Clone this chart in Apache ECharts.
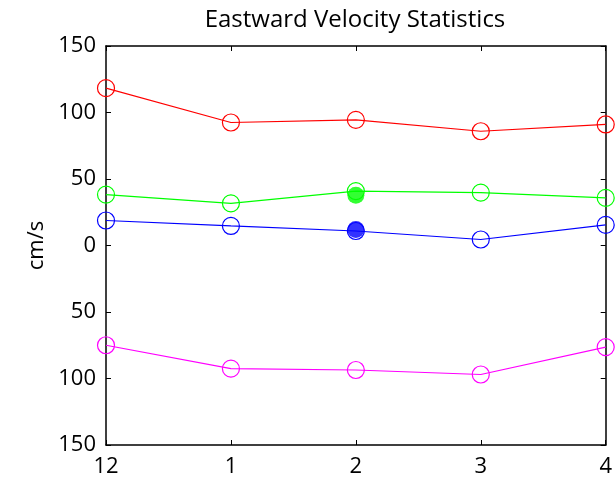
<!DOCTYPE html>
<html><head><meta charset="utf-8">
<script src="https://cdn.jsdelivr.net/npm/echarts@6/dist/echarts.min.js"></script>
<style>html,body{margin:0;padding:0;background:#fff}#c{width:615px;height:479px}</style>
</head><body><div id="c"></div>
<script>
const categories = ['12','1','2','3','4'];
const redValues = [118.3, 92.5, 94.5, 85.9, 91];
const greenValues = [38.3, 31.7, 40.9, 39.8, 35.8];
const blueValues = [18.8, 14.7, 10.9, 4.5, 15.5];
const magentaValues = [-75, -92.6, -93.6, -97, -76.4];
const filledGreen = [null, null, 37.8, null, null];
const filledBlue = [null, null, 12, null, null];
const yTicks = [-150, -100, -50, 0, 50, 100, 150];

const font = 'Open Sans';
function lineSeries(data, color){
  return {type:'line', data:data, symbol:'circle', symbolSize:17, showSymbol:true,
    itemStyle:{color:'rgba(255,255,255,0)', borderColor:color, borderWidth:1.2},
    lineStyle:{color:color, width:1.2}, emphasis:{disabled:true}, animation:false, z:2};
}
function filled(data, color){
  return {type:'scatter', data:data, symbol:'circle', symbolSize:17,
    itemStyle:{color:color}, emphasis:{disabled:true}, animation:false, z:5};
}
const axisLineStyle = {show:true, onZero:false, lineStyle:{color:'#000', width:1.5}};
const chart = echarts.init(document.getElementById('c'));
chart.setOption({
  backgroundColor:'#fff',
  title:{text:'Eastward Velocity Statistics', left:350, textAlign:'center', top:3,
    textStyle:{fontFamily:font, fontSize:24, fontWeight:'normal', color:'#000'}},
  grid:{left:106, right:3, top:46, bottom:34, containLabel:false},
  xAxis:[{type:'category', data:categories, boundaryGap:false,
    axisLine:axisLineStyle,
    axisTick:{inside:true, length:5, lineStyle:{color:'#000'}},
    axisLabel:{fontFamily:font, fontSize:22, color:'#000', margin:11},
    splitLine:{show:false}},
   {type:'category', data:categories, boundaryGap:false, position:'top',
    axisLine:axisLineStyle,
    axisTick:{inside:true, length:5, lineStyle:{color:'#000'}},
    axisLabel:{show:false}}],
  yAxis:[{type:'value', min:-150, max:150, interval:50,
    name:'cm/s', nameLocation:'middle', nameGap:51, nameRotate:90,
    nameTextStyle:{fontFamily:font, fontSize:22, color:'#000'},
    axisLine:axisLineStyle,
    axisTick:{show:true, inside:true, length:5, lineStyle:{color:'#000'}},
    axisLabel:{fontFamily:font, fontSize:22, color:'#000', margin:10,
      formatter:v=>String(Math.abs(v))},
    splitLine:{show:false}},
   {type:'value', min:-150, max:150, interval:50, position:'right',
    axisLine:axisLineStyle,
    axisTick:{show:true, inside:true, length:5, lineStyle:{color:'#000'}},
    axisLabel:{show:false}, splitLine:{show:false}}],
  series:[
    lineSeries(redValues,'#ff0000'),
    lineSeries(greenValues,'#00ff00'),
    lineSeries(blueValues,'#0000ff'),
    lineSeries(magentaValues,'#ff00ff'),
    filled(filledGreen,'#00ff00'),
    filled(filledBlue,'#0000ff')
  ]
});
</script></body></html>
